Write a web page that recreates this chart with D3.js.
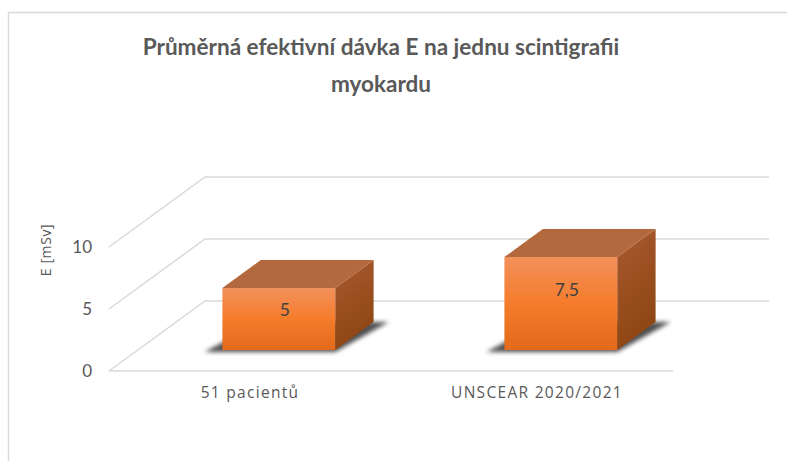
<!DOCTYPE html>
<html><head><meta charset="utf-8">
<script src="https://cdn.jsdelivr.net/npm/d3@7"></script>
<style>html,body{margin:0;padding:0;background:#fff;}svg{display:block;}</style>
</head><body>
<script>
const categories = ["51 pacientů", "UNSCEAR 2020/2021"];
const values = [5, 7.5];
const valueLabels = ["5", "7,5"];
const yTicks = [0, 5, 10];
const titleLines = ["Průměrná efektivní dávka E na jednu scintigrafii", "myokardu"];
const yAxisTitle = "E [mSv]";

const W = 787, H = 461;
const svg = d3.select("body").append("svg").attr("width", W).attr("height", H);
const font = "Lato, 'Open Sans', sans-serif";
const font2 = "'Open Sans', Lato, sans-serif";

// chart border
svg.append("path").attr("d", `M8.5,${H+2}V12.5H${W+2}`).attr("fill","none").attr("stroke","#d9d9d9").attr("stroke-width",1.5);

// projection
const floorFrontY = 371, left = 109, right = 673;
const DX = 96, DY = -70;
const y = d3.scaleLinear().domain([0, 10]).range([floorFrontY, floorFrontY - 124]);
const x = d3.scaleBand().domain(categories).range([left, right]).paddingInner(0).paddingOuter(0);
const barFrac = 0.4, z0 = 0.3, z1 = 0.7;
const P = (px, v, z) => [px + DX * z, y(v) + DY * z];

const defs = svg.append("defs");
const gF = defs.append("linearGradient").attr("id","front").attr("x1",0).attr("y1",0).attr("x2",0).attr("y2",1);
gF.append("stop").attr("offset","0%").attr("stop-color","#f2915c");
gF.append("stop").attr("offset","50%").attr("stop-color","#f57c2b");
gF.append("stop").attr("offset","100%").attr("stop-color","#e36a1b");
const gS = defs.append("linearGradient").attr("id","side").attr("x1",0).attr("y1",0).attr("x2",0.3).attr("y2",1);
gS.append("stop").attr("offset","0%").attr("stop-color","#a95a30");
gS.append("stop").attr("offset","100%").attr("stop-color","#8e4513");
const blur = defs.append("filter").attr("id","blur").attr("x","-20%").attr("y","-50%").attr("width","140%").attr("height","200%");
blur.append("feGaussianBlur").attr("stdDeviation",2.2);

const grid = svg.append("g").attr("stroke","#d9d9d9").attr("stroke-width",1.5).attr("fill","none");
yTicks.forEach(t => {
  const a = P(left, t, 0), b = P(left, t, 1), c = P(right, t, 1);
  grid.append("path").attr("d", `M${a}L${b}L${c}`);
});
// floor front edge
grid.append("line").attr("x1", left).attr("x2", right).attr("y1", y(0)).attr("y2", y(0));

// y tick labels
svg.append("g").selectAll("text").data(yTicks).join("text")
  .attr("x", 92).attr("y", d => y(d)).attr("dy","0.36em").attr("text-anchor","end")
  .attr("font-family", font).attr("font-size", 17).attr("fill","#595959").text(d => d);

svg.append("text").attr("transform","translate(51,250) rotate(-90)").attr("text-anchor","middle")
  .attr("font-family", font2).attr("font-size", 14).attr("letter-spacing", 0.6).attr("fill","#595959").text(yAxisTitle);

// bars
const bars = svg.append("g");
categories.forEach((c, i) => {
  const bw = x.bandwidth() * barFrac;
  const x0 = x(c) + (x.bandwidth() - bw) / 2, x1 = x0 + bw;
  const v = values[i];
  const fbl = P(x0, 0, z0), fbr = P(x1, 0, z0), ftl = P(x0, v, z0), ftr = P(x1, v, z0);
  const bbr = P(x1, 0, z1), btl = P(x0, v, z1), btr = P(x1, v, z1), bbl = P(x0, 0, z1);
  // shadow
  bars.append("path").attr("d", `M${fbl[0]-18},${fbl[1]+2}L${fbr[0]},${fbr[1]+2}L${bbr[0]+15},${bbr[1]}L${bbl[0]},${bbl[1]}Z`)
    .attr("fill","#333").attr("opacity",0.85).attr("filter","url(#blur)");
  bars.append("path").attr("d", `M${fbr}L${bbr}L${btr}L${ftr}Z`).attr("fill","url(#side)");
  bars.append("path").attr("d", `M${ftl}L${ftr}L${btr}L${btl}Z`).attr("fill","#b4683e");
  bars.append("path").attr("d", `M${ftl}L${ftr}L${fbr}L${fbl}Z`).attr("fill","url(#front)");
  const cx = (ftl[0] + ftr[0]) / 2 + 6;
  const cy = ftl[1] + (fbl[1] - ftl[1]) * 0.35;
  bars.append("text").attr("x", cx).attr("y", cy).attr("dy","0.36em").attr("text-anchor","middle")
    .attr("font-family", font).attr("font-size", 17.5).attr("fill","#404040").text(valueLabels[i]);
});

// category labels
svg.append("g").selectAll("text").data(categories).join("text")
  .attr("x", (d, i) => x(d) + x.bandwidth()/2 + i * 5).attr("y", 398).attr("text-anchor","middle")
  .attr("font-family", font2).attr("font-size", 15.5).attr("letter-spacing", 1.3).attr("fill","#595959").text(d => d);

// title
const tg = svg.append("g").attr("font-family", font).attr("font-weight","bold").attr("fill","#595959");
const t1 = tg.append("text").attr("x", 0).attr("y", 0).attr("text-anchor","middle").attr("font-size", 22).text(titleLines[0]);
const sx = 477 / t1.node().getComputedTextLength();
t1.attr("transform", `translate(381,55) scale(${sx},1)`);
tg.append("text").attr("transform", `translate(381,92) scale(${sx},1)`).attr("text-anchor","middle").attr("font-size", 22).text(titleLines[1]);
</script>
</body></html>
